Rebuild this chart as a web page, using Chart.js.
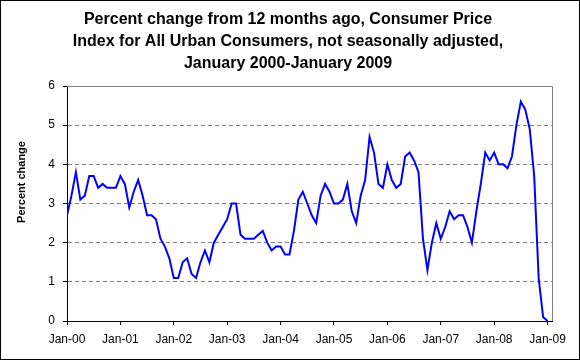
<!DOCTYPE html>
<html>
<head>
<meta charset="utf-8">
<script src="https://cdn.jsdelivr.net/npm/chart.js@4/dist/chart.umd.min.js"></script>
<style>
html,body{margin:0;padding:0;background:#fff;}
canvas{display:block;}
</style>
</head>
<body>
<canvas id="c" width="580" height="360"></canvas>
<script>
const titleLines = [
  'Percent change from 12 months ago, Consumer Price',
  'Index for All Urban Consumers, not seasonally adjusted,',
  'January 2000-January 2009'
];
const yTitle = 'Percent change';
const tickLabels = ['Jan-00','Jan-01','Jan-02','Jan-03','Jan-04','Jan-05','Jan-06','Jan-07','Jan-08','Jan-09'];
// Monthly values, Jan 2000 .. Jan 2009
const cpi2000 = [2.7,3.2,3.8,3.1,3.2,3.7,3.7,3.4,3.5,3.4,3.4,3.4];
const cpi2001 = [3.7,3.5,2.9,3.3,3.6,3.2,2.7,2.7,2.6,2.1,1.9,1.6];
const cpi2002 = [1.1,1.1,1.5,1.6,1.2,1.1,1.5,1.8,1.5,2.0,2.2,2.4];
const cpi2003 = [2.6,3.0,3.0,2.2,2.1,2.1,2.1,2.2,2.3,2.0,1.8,1.9];
const cpi2004 = [1.9,1.7,1.7,2.3,3.1,3.3,3.0,2.7,2.5,3.2,3.5,3.3];
const cpi2005 = [3.0,3.0,3.1,3.5,2.8,2.5,3.2,3.6,4.7,4.3,3.5,3.4];
const cpi2006 = [4.0,3.6,3.4,3.5,4.2,4.3,4.1,3.8,2.1,1.3,2.0,2.5];
const cpi2007 = [2.1,2.4,2.8,2.6,2.7,2.7,2.4,2.0,2.8,3.5,4.3,4.1];
const cpi2008 = [4.3,4.0,4.0,3.9,4.2,5.0,5.6,5.4,4.9,3.7,1.1,0.1];
const cpi2009 = [0.0];
const cpiChange = [].concat(cpi2000,cpi2001,cpi2002,cpi2003,cpi2004,cpi2005,cpi2006,cpi2007,cpi2008,cpi2009);
const yMin = 0, yMax = 6, yStep = 1;
const monthsPerTick = 12;

const framePlugin = {
  id: 'frame',
  beforeDatasetsDraw(chart) {
    const {ctx, chartArea: a} = chart;
    ctx.save();
    ctx.strokeStyle = '#808080';
    ctx.lineWidth = 1;
    ctx.beginPath();
    ctx.moveTo(a.left, Math.round(a.top) + 0.5);
    ctx.lineTo(Math.round(a.right) + 0.5, Math.round(a.top) + 0.5);
    ctx.lineTo(Math.round(a.right) + 0.5, a.bottom);
    ctx.stroke();
    ctx.restore();
  },
  afterDraw(chart) {
    const ctx = chart.ctx;
    ctx.save();
    // rotated axis title, placed like the original (above plot centre)
    ctx.translate(22, 182);
    ctx.rotate(-Math.PI / 2);
    ctx.fillStyle = '#000';
    ctx.font = 'bold 11px "Liberation Sans", Arial, sans-serif';
    ctx.textAlign = 'center';
    ctx.textBaseline = 'middle';
    ctx.fillText(yTitle, 0, 0);
    ctx.restore();
    ctx.save();
    ctx.strokeStyle = '#000';
    ctx.lineWidth = 1;
    ctx.strokeRect(0.5, 0.5, chart.width - 1, chart.height - 1);
    ctx.restore();
  }
};

new Chart(document.getElementById('c'), {
  type: 'line',
  data: {
    datasets: [{
      label: yTitle,
      data: cpiChange.map((v, i) => ({x: i, y: v})),
      borderColor: '#0000FF',
      borderWidth: 2,
      pointRadius: 0,
      tension: 0,
      fill: false
    }]
  },
  options: {
    responsive: false,
    animation: false,
    devicePixelRatio: 1,
    layout: {padding: {left: 24, right: 28, top: 0, bottom: 0}},
    plugins: {
      legend: {display: false},
      tooltip: {enabled: false},
      title: {
        display: true,
        text: titleLines,
        color: '#000',
        font: {family: 'Liberation Sans, Arial, sans-serif', size: 16, weight: 'bold', lineHeight: 1.375},
        padding: {top: 9, bottom: 11}
      }
    },
    scales: {
      x: {
        type: 'linear',
        min: 0,
        max: (tickLabels.length - 1) * monthsPerTick + 1,
        afterBuildTicks: s => { s.ticks = tickLabels.map((_, i) => ({value: i * monthsPerTick})); },
        afterFit: s => { s.height = 39; },
        ticks: {
          autoSkip: false,
          maxRotation: 0,
          color: '#000',
          padding: 7,
          font: {family: 'Liberation Sans, Arial, sans-serif', size: 12},
          callback: v => tickLabels[Math.round(v / monthsPerTick)]
        },
        grid: {drawOnChartArea: false, drawTicks: true, tickLength: 4, tickColor: '#000'},
        border: {display: true, color: '#000', width: 1}
      },
      y: {
        min: yMin,
        max: yMax,
        afterFit: s => { s.width = 43; },
        ticks: {
          stepSize: yStep,
          color: '#000',
          padding: 8,
          font: {family: 'Liberation Sans, Arial, sans-serif', size: 12}
        },
        grid: {
          color: c => (c.tick && c.tick.value > yMin && c.tick.value < yMax) ? '#808080' : 'rgba(0,0,0,0)',
          tickColor: '#000',
          tickLength: 4,
          tickBorderDash: [],
          lineWidth: 1
        },
        border: {display: true, color: '#000', width: 1, dash: [4, 3]}
      }
    }
  },
  plugins: [framePlugin]
});
</script>
</body>
</html>
